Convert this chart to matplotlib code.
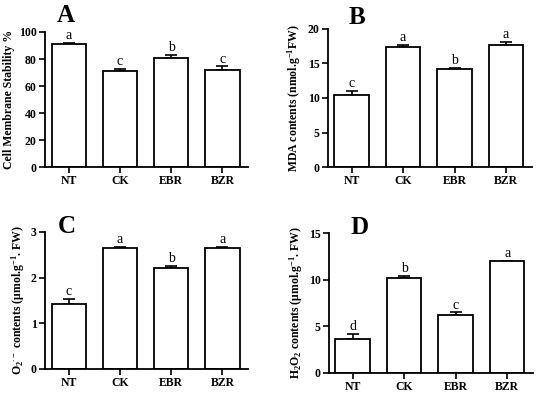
import numpy as np
import matplotlib
matplotlib.use("Agg")
from matplotlib import pyplot as plt

plt.rcParams['font.family'] = ['Liberation Serif', 'DejaVu Serif']
plt.rcParams['mathtext.default'] = 'regular'

groups = ['NT', 'CK', 'EBR', 'BZR']

# panel data (mean, error, significance letters)
cms = [91.0, 71.0, 80.5, 72.0]
cms_err = [1.0, 1.5, 2.5, 2.5]
cms_sig = ['a', 'c', 'b', 'c']

mda = [10.5, 17.3, 14.2, 17.7]
mda_err = [0.5, 0.4, 0.2, 0.4]
mda_sig = ['c', 'a', 'b', 'a']

o2 = [1.42, 2.64, 2.20, 2.64]
o2_err = [0.12, 0.03, 0.06, 0.03]
o2_sig = ['c', 'a', 'b', 'a']

h2o2 = [3.6, 10.2, 6.2, 12.0]
h2o2_err = [0.6, 0.2, 0.3, 0.05]
h2o2_sig = ['d', 'b', 'c', 'a']

panels = [
    ('A', cms, cms_err, cms_sig, 'Cell Membrane Stability %', 100, 20,
     [0.082, 0.577, 0.369, 0.342], (66, 15)),
    ('B', mda, mda_err, mda_sig, 'MDA contents (nmol.g$^{-1}$FW)', 20, 5,
     [0.596, 0.577, 0.371, 0.350], (357, 18)),
    ('C', o2, o2_err, o2_sig, 'O$_2$$^{\\cdot-}$ contents (μmol.g$^{-1}$. FW)', 3, 1,
     [0.082, 0.066, 0.369, 0.347], (67, 226)),
    ('D', h2o2, h2o2_err, h2o2_sig, 'H$_2$O$_2$ contents (μmol.g$^{-1}$. FW)', 15, 5,
     [0.598, 0.056, 0.371, 0.354], (360, 228)),
]

fig = plt.figure(figsize=(5.5, 3.95), dpi=100)
x = np.arange(len(groups))

for letter, vals, errs, sigs, ylab, ymax, step, pos, lpos in panels:
    ax = fig.add_axes(pos)
    ax.bar(x, vals, width=0.67, color='white', edgecolor='black', linewidth=1.3, zorder=2)
    ax.errorbar(x, vals, yerr=[np.zeros(len(errs)), errs], fmt='none',
                ecolor='black', elinewidth=1.2, capsize=4, capthick=1.2, zorder=1)
    for xi, v, e, s in zip(x, vals, errs, sigs):
        ax.text(xi, v + e + ymax * 0.005, s, ha='center', va='bottom', fontsize=10)
    ax.set_xlim(-0.46, 3.5)
    ax.set_ylim(0, ymax)
    ax.set_yticks(np.arange(0, ymax + step / 2, step))
    ax.set_xticks(x)
    ax.set_xticklabels(groups, fontweight='bold', fontsize=8.5)
    for t in ax.get_yticklabels():
        t.set_fontweight('bold')
        t.set_fontsize(8.5)
    ax.set_ylabel(ylab, fontweight='bold', fontsize=8.5, labelpad=3)
    for side in ['top', 'right']:
        ax.spines[side].set_visible(False)
    for side in ['left', 'bottom']:
        ax.spines[side].set_linewidth(1.3)
    ax.tick_params(width=1.2, length=4, pad=2)
    fig.text(lpos[0] / 550, 1 - lpos[1] / 395, letter, fontsize=18,
             fontweight='bold', ha='center', va='center')

fig.savefig('out.png', dpi=100)
